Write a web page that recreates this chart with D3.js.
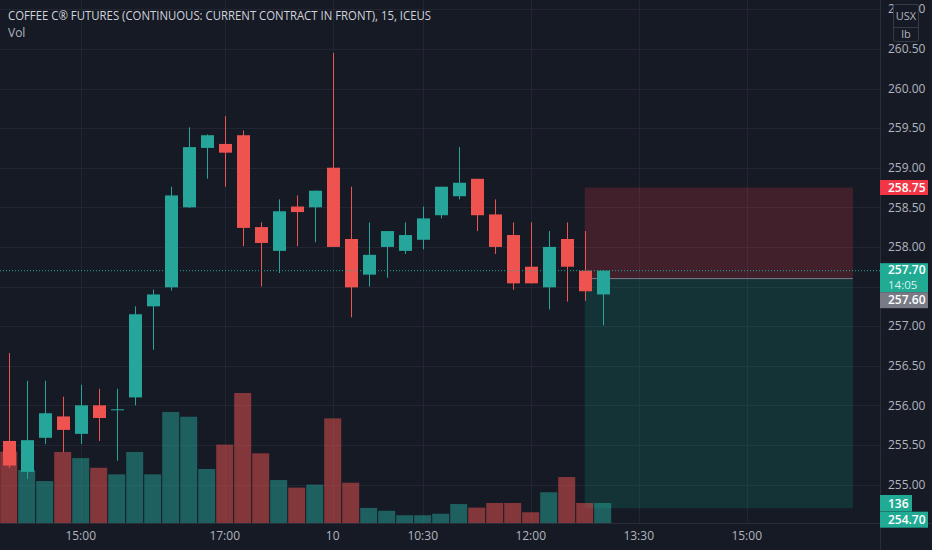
<!DOCTYPE html>
<html>
<head>
<meta charset="utf-8">
<script src="https://cdn.jsdelivr.net/npm/d3@7/dist/d3.min.js"></script>
<style>
  body { margin: 0; background: #161a25; overflow: hidden; }
  text { font-family: "Open Sans", "Noto Sans", sans-serif; }
</style>
</head>
<body>
<div id="chart"></div>
<script>
var width = 932,
  height = 550,
  plotRight = 880,
  plotBottom = 523,
  barStep = 18,
  bodyWidth = 13,
  volWidth = 17;

var up = "#26a69a",
  down = "#ef5350",
  bg = "#161a25",
  grid = "#232632",
  axisText = "#b2b5be";

// 15 minute bars, oldest first
var opens  = [255.55, 255.16, 255.59, 255.86, 255.64, 256.00, 255.95, 256.10, 257.25, 257.49, 258.50, 259.25, 259.30, 259.41, 258.25, 257.95, 258.51, 258.50, 259.00, 258.10, 257.65, 258.00, 257.95, 258.09, 258.40, 258.64, 258.86, 258.41, 258.15, 257.75, 257.49, 258.10, 257.70, 257.40];
var highs  = [256.66, 256.31, 256.31, 256.11, 256.26, 256.21, 256.21, 257.25, 257.46, 258.76, 259.51, 259.42, 259.65, 259.47, 258.31, 258.60, 258.65, 258.71, 260.45, 258.76, 258.31, 258.20, 258.31, 258.51, 258.76, 259.26, 258.86, 258.60, 258.31, 258.31, 258.20, 258.31, 258.20, 257.70];
var lows   = [255.21, 255.07, 255.51, 255.41, 255.51, 255.55, 255.30, 256.00, 256.70, 257.45, 258.49, 258.86, 258.76, 258.01, 257.50, 257.67, 258.01, 258.06, 258.00, 257.11, 257.50, 257.61, 257.91, 257.97, 258.36, 258.60, 258.20, 257.91, 257.46, 257.54, 257.21, 257.31, 257.32, 257.01];
var closes = [255.24, 255.56, 255.90, 255.69, 256.00, 255.84, 255.95, 257.15, 257.40, 258.65, 259.26, 259.41, 259.19, 258.24, 258.05, 258.45, 258.44, 258.71, 258.00, 257.49, 257.90, 258.20, 258.15, 258.36, 258.76, 258.81, 258.40, 258.00, 257.54, 257.54, 258.00, 257.75, 257.44, 257.70];
var volumes = [480, 357, 283, 478, 437, 372, 328, 478, 328, 746, 714, 364, 527, 873, 469, 290, 239, 259, 703, 272, 103, 84, 54, 54, 64, 129, 105, 136, 136, 74, 208, 310, 136, 136];

var timeTickIdx = [4, 12, 18, 23, 29, 35, 41];
var timeTickLabels = ["15:00", "17:00", "10", "10:30", "12:00", "13:30", "15:00"];
var priceTicks = [255.0, 255.5, 256.0, 256.5, 257.0, 257.5, 258.0, 258.5, 259.0, 259.5, 260.0, 260.5, 261.0];

// short position tool
var positionStart = 32, positionEnd = 46.9;
var entryPrice = 257.60, stopPrice = 258.75, targetPrice = 254.70;
var countdown = "14:05";

var bars = opens.map(function (o, i) {
  return { i: i, open: o, high: highs[i], low: lows[i], close: closes[i], volume: volumes[i] };
});
var last = bars[bars.length - 1];

var x = d3.scaleLinear()
  .domain([0, 48])
  .range([8.7, 8.7 + 48 * barStep]);

var y = d3.scaleLinear()
  .domain([254.7, 260.5])
  .range([508.3, 48.9]);

var yVol = d3.scaleLinear()
  .domain([0, 136])
  .range([plotBottom + 0.3, 503]);

function colorOf(d) { return d.close >= d.open ? up : down; }

var svg = d3.select("#chart").append("svg")
  .attr("width", width)
  .attr("height", height);

svg.append("rect")
  .attr("width", width)
  .attr("height", height)
  .attr("fill", bg);

var plot = svg.append("g").attr("id", "plot");

// grid
plot.append("g").attr("id", "hgrid")
  .selectAll("line")
  .data(priceTicks)
  .enter().append("line")
  .attr("x1", 0).attr("x2", plotRight)
  .attr("y1", function (d) { return Math.round(y(d)) + 0.5; })
  .attr("y2", function (d) { return Math.round(y(d)) + 0.5; })
  .attr("stroke", grid);

plot.append("g").attr("id", "vgrid")
  .selectAll("line")
  .data(timeTickIdx)
  .enter().append("line")
  .attr("x1", function (d) { return Math.round(x(d)) + 0.5; })
  .attr("x2", function (d) { return Math.round(x(d)) + 0.5; })
  .attr("y1", 0).attr("y2", plotBottom)
  .attr("stroke", grid);

// position zones
var boxX = x(positionStart), boxW = x(positionEnd) - x(positionStart);
plot.append("rect")
  .attr("id", "stop-zone")
  .attr("x", boxX).attr("width", boxW)
  .attr("y", y(stopPrice)).attr("height", y(entryPrice) - y(stopPrice))
  .attr("fill", "rgba(242,54,69,0.2)");

plot.append("rect")
  .attr("id", "target-zone")
  .attr("x", boxX).attr("width", boxW)
  .attr("y", y(entryPrice)).attr("height", y(targetPrice) - y(entryPrice))
  .attr("fill", "rgba(8,153,129,0.2)");

plot.append("line")
  .attr("x1", boxX).attr("x2", boxX + boxW)
  .attr("y1", y(entryPrice)).attr("y2", y(entryPrice))
  .attr("stroke", "#787b86");

// volume
plot.append("g").attr("id", "volume")
  .selectAll("rect")
  .data(bars)
  .enter().append("rect")
  .attr("x", function (d) { return x(d.i) - volWidth / 2; })
  .attr("width", volWidth)
  .attr("y", function (d) { return yVol(d.volume); })
  .attr("height", function (d) { return yVol(0) - yVol(d.volume); })
  .attr("fill", colorOf)
  .attr("fill-opacity", 0.5);

// candles
var candle = plot.append("g").attr("id", "candles")
  .selectAll("g")
  .data(bars)
  .enter().append("g");

candle.append("line")
  .attr("x1", function (d) { return Math.round(x(d.i)) + 0.5; })
  .attr("x2", function (d) { return Math.round(x(d.i)) + 0.5; })
  .attr("y1", function (d) { return y(d.high); })
  .attr("y2", function (d) { return y(d.low); })
  .attr("stroke", colorOf);

candle.append("rect")
  .attr("x", function (d) { return Math.round(x(d.i)) + 0.5 - bodyWidth / 2; })
  .attr("width", bodyWidth)
  .attr("y", function (d) { return y(Math.max(d.open, d.close)); })
  .attr("height", function (d) { return Math.max(1, Math.abs(y(d.open) - y(d.close))); })
  .attr("fill", colorOf);

// last price line
plot.append("line")
  .attr("x1", 0).attr("x2", plotRight)
  .attr("y1", y(last.close)).attr("y2", y(last.close))
  .attr("stroke", "#22ab94")
  .attr("stroke-dasharray", "1,2");

// axes frame
svg.append("line")
  .attr("x1", plotRight + 0.5).attr("x2", plotRight + 0.5)
  .attr("y1", 0).attr("y2", height)
  .attr("stroke", "#2a2e39");
svg.append("line")
  .attr("x1", 0).attr("x2", width)
  .attr("y1", plotBottom + 0.5).attr("y2", plotBottom + 0.5)
  .attr("stroke", "#2a2e39");

// label boxes on the price scale, [top, height]
var ys = y(stopPrice), yl = y(last.close), yt = y(targetPrice), yv = yVol(last.volume);
var labelSpans = [[ys - 7.5, 15], [yl - 7.5, 29], [yl + 21.5, 16], [yv - 8, 16.5], [yt + 3.4, 16]];

function hiddenByLabel(p) {
  var t = y(p);
  return labelSpans.some(function (s) { return t + 6 > s[0] && t - 6 < s[0] + s[1]; });
}

// price axis
svg.append("g").attr("id", "price-axis")
  .selectAll("text")
  .data(priceTicks.filter(function (p) { return !hiddenByLabel(p); }))
  .enter().append("text")
  .attr("x", 888)
  .attr("y", function (d) { return y(d); })
  .attr("dy", "0.35em")
  .attr("font-size", 12)
  .attr("fill", axisText)
  .text(function (d) { return d3.format(".2f")(d); });

// time axis
svg.append("g").attr("id", "time-axis")
  .selectAll("text")
  .data(timeTickIdx)
  .enter().append("text")
  .attr("x", function (d) { return x(d); })
  .attr("y", 536)
  .attr("dy", "0.35em")
  .attr("text-anchor", "middle")
  .attr("font-size", 12)
  .attr("fill", axisText)
  .text(function (d, i) { return timeTickLabels[i]; });

function priceLabel(span, w, fill, lines) {
  var g = svg.append("g");
  g.append("rect")
    .attr("x", plotRight).attr("y", span[0])
    .attr("width", w).attr("height", span[1])
    .attr("fill", fill);
  lines.forEach(function (l) {
    g.append("text")
      .attr("x", 888).attr("y", l.y)
      .attr("dy", "0.35em")
      .attr("font-size", l.size || 12)
      .attr("font-weight", l.bold ? 600 : 400)
      .attr("fill", l.color || "#fff")
      .text(l.text);
  });
}

priceLabel(labelSpans[0], 48, "#f23645", [{ y: ys, text: d3.format(".2f")(stopPrice), bold: true }]);
priceLabel(labelSpans[1], 48, "#22ab94", [
  { y: yl - 0.5, text: d3.format(".2f")(last.close), bold: true },
  { y: yl + 14, text: countdown, color: "#d8f2ee", size: 11.5 }
]);
priceLabel(labelSpans[2], 48, "#787b86", [{ y: yl + 29.5, text: d3.format(".2f")(entryPrice), bold: true }]);
priceLabel(labelSpans[3], 32, "#22ab94", [{ y: yv + 0.3, text: last.volume, bold: true }]);
priceLabel(labelSpans[4], 48, "#22ab94", [{ y: yt + 11, text: d3.format(".2f")(targetPrice), bold: true }]);

// currency / unit box
var unit = svg.append("g").attr("id", "unit");
unit.append("rect")
  .attr("x", 893.5).attr("y", 4.5).attr("width", 25).attr("height", 37)
  .attr("rx", 2)
  .attr("fill", bg).attr("stroke", "#363a45");
unit.append("line")
  .attr("x1", 893.5).attr("x2", 918.5).attr("y1", 27.5).attr("y2", 27.5)
  .attr("stroke", "#363a45");
unit.append("text").attr("x", 906).attr("y", 16).attr("dy", "0.35em")
  .attr("text-anchor", "middle").attr("font-size", 11).attr("fill", axisText).text("USX");
unit.append("text").attr("x", 906).attr("y", 34).attr("dy", "0.35em")
  .attr("text-anchor", "middle").attr("font-size", 11).attr("fill", axisText).text("lb");

// legend
svg.append("text")
  .attr("x", 8).attr("y", 20)
  .attr("font-size", 13)
  .attr("fill", "#d1d4dc")
  .attr("textLength", 423)
  .attr("lengthAdjust", "spacingAndGlyphs")
  .text("COFFEE C® FUTURES (CONTINUOUS: CURRENT CONTRACT IN FRONT), 15, ICEUS");

svg.append("text")
  .attr("x", 8).attr("y", 37)
  .attr("font-size", 12)
  .attr("fill", "#b2b5be")
  .text("Vol");
</script>
</body>
</html>
